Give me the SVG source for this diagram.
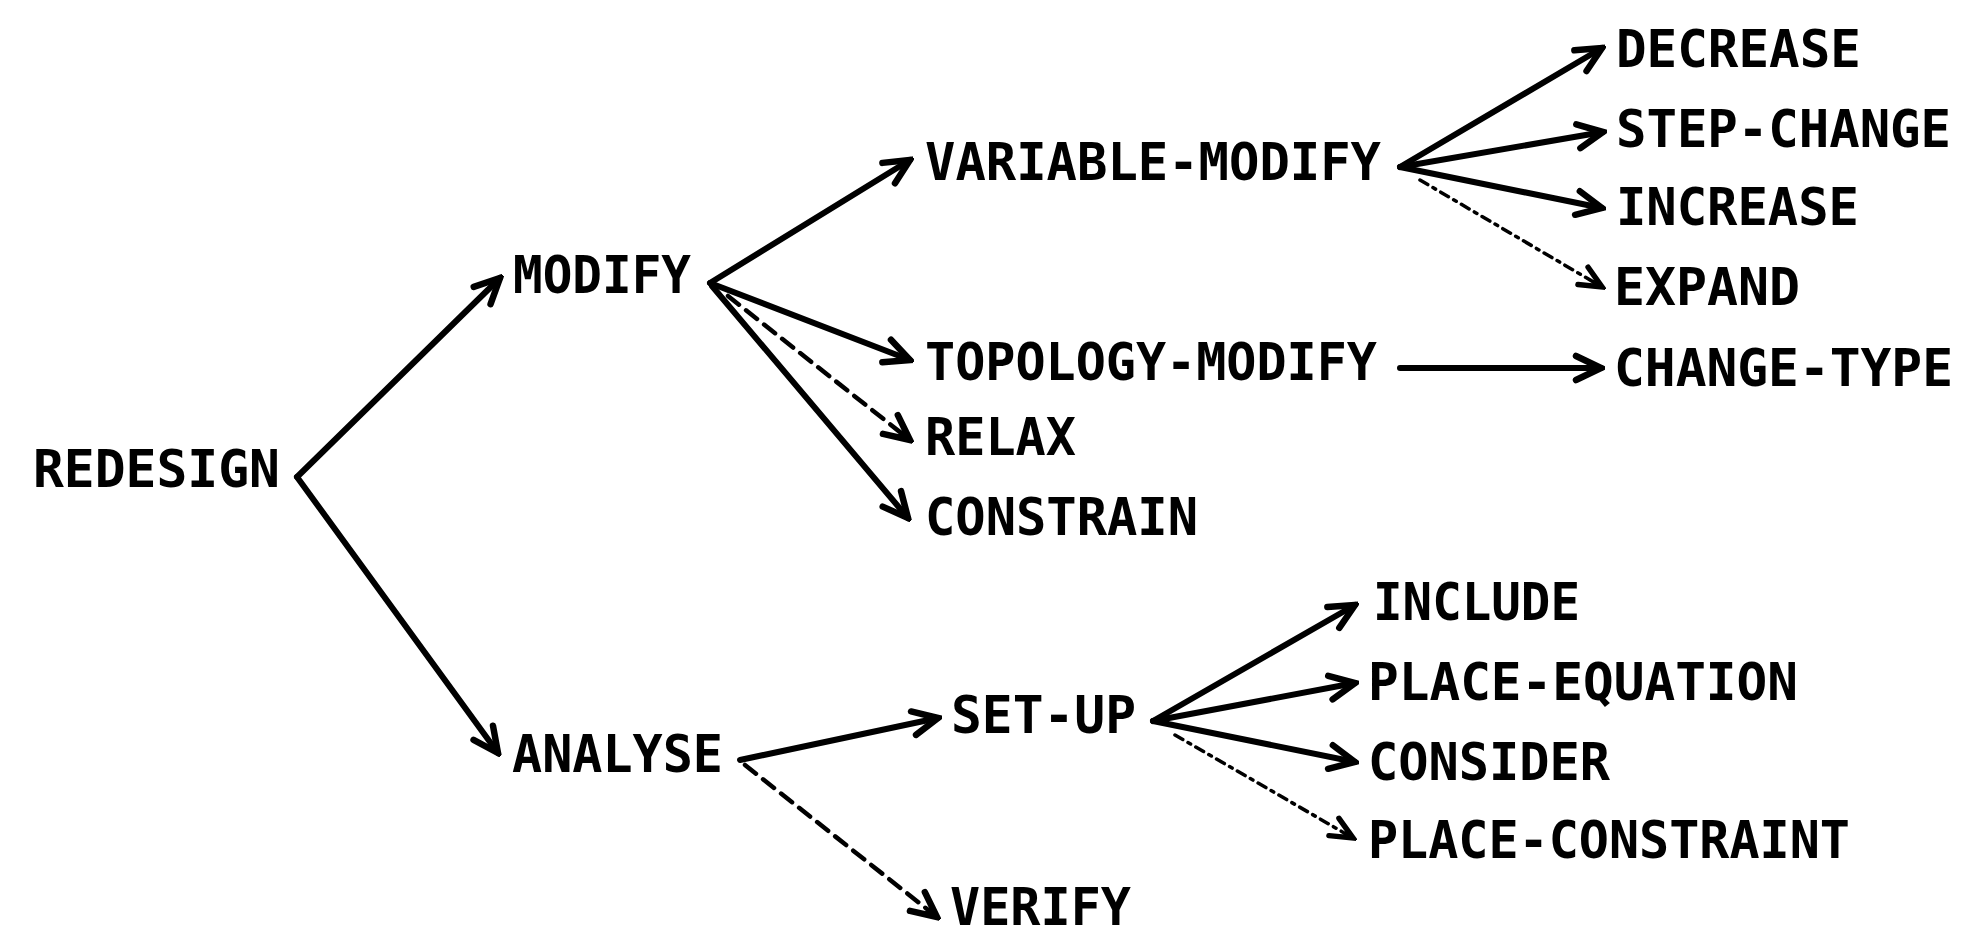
<svg xmlns="http://www.w3.org/2000/svg" width="1987" height="935" viewBox="0 0 1987 935">
<style>
  text { font-family: "DejaVu Sans Mono", "Liberation Mono", monospace; font-weight: bold; font-size: 51px; fill: #000; }
  .c { fill: none; stroke: #000; stroke-linecap: round; }
  .solid { stroke-width: 6; marker-end: url(#ah); }
  .dash { stroke-width: 4.5; stroke-dasharray: 14 9; marker-end: url(#ah); }
  .dot { stroke-width: 3.5; stroke-dasharray: 9 6 3 6; marker-end: url(#ahs); }
</style>
<defs>
  <marker id="ah" viewBox="-32 -16 36 32" refX="0" refY="0" markerUnits="userSpaceOnUse" markerWidth="36" markerHeight="32" orient="auto">
    <path d="M-25,-12 L0,0 L-25,12" fill="none" stroke="#000" stroke-width="6.5" stroke-linejoin="miter" stroke-linecap="round"/>
    <path d="M1,0 L-16,-9 L-11,0 L-16,9 Z" fill="#000"/>
  </marker>
  <marker id="ahs" viewBox="-32 -16 36 32" refX="0" refY="0" markerUnits="userSpaceOnUse" markerWidth="36" markerHeight="32" orient="auto">
    <path d="M-22,-10 L0,0 L-22,10" fill="none" stroke="#000" stroke-width="5.5" stroke-linejoin="miter" stroke-linecap="round"/>
    <path d="M1,0 L-14,-8 L-9,0 L-14,8 Z" fill="#000"/>
  </marker>
</defs>

<g id="connectors">
  <line class="c solid" x1="297" y1="477" x2="500" y2="278"/>
  <line class="c solid" x1="297" y1="477" x2="498" y2="753"/>

  <line class="c solid" x1="710" y1="283" x2="910" y2="160"/>
  <line class="c solid" x1="710" y1="283" x2="910" y2="360"/>
  <line class="c dash" x1="728" y1="296" x2="910" y2="440"/>
  <line class="c solid" x1="712" y1="286" x2="908" y2="518"/>

  <line class="c solid" x1="1400" y1="167" x2="1602" y2="48"/>
  <line class="c solid" x1="1400" y1="167" x2="1603" y2="132"/>
  <line class="c solid" x1="1400" y1="167" x2="1602" y2="208"/>
  <line class="c dot" x1="1420" y1="180" x2="1602" y2="287"/>

  <line class="c solid" x1="1400" y1="368" x2="1601" y2="368"/>

  <line class="c solid" x1="740" y1="760" x2="938" y2="718"/>
  <line class="c dash" x1="745" y1="765" x2="937" y2="917"/>

  <line class="c solid" x1="1153" y1="721" x2="1355" y2="605"/>
  <line class="c solid" x1="1153" y1="721" x2="1355" y2="683"/>
  <line class="c solid" x1="1153" y1="721" x2="1355" y2="762"/>
  <line class="c dot" x1="1175" y1="735" x2="1353" y2="838"/>
</g>

<g id="node-redesign"><text x="33" y="487" textLength="247" lengthAdjust="spacingAndGlyphs">REDESIGN</text></g>
<g id="node-modify"><text x="513" y="293" textLength="178" lengthAdjust="spacingAndGlyphs">MODIFY</text></g>
<g id="node-analyse"><text x="512" y="772" textLength="211" lengthAdjust="spacingAndGlyphs">ANALYSE</text></g>
<g id="node-variable-modify"><text x="925" y="180" textLength="456" lengthAdjust="spacingAndGlyphs">VARIABLE-MODIFY</text></g>
<g id="node-topology-modify"><text x="925" y="380" textLength="452" lengthAdjust="spacingAndGlyphs">TOPOLOGY-MODIFY</text></g>
<g id="node-relax"><text x="925" y="455" textLength="151" lengthAdjust="spacingAndGlyphs">RELAX</text></g>
<g id="node-constrain"><text x="925" y="535" textLength="273" lengthAdjust="spacingAndGlyphs">CONSTRAIN</text></g>
<g id="node-decrease"><text x="1616" y="67" textLength="245" lengthAdjust="spacingAndGlyphs">DECREASE</text></g>
<g id="node-step-change"><text x="1616" y="147" textLength="335" lengthAdjust="spacingAndGlyphs">STEP-CHANGE</text></g>
<g id="node-increase"><text x="1616" y="225" textLength="243" lengthAdjust="spacingAndGlyphs">INCREASE</text></g>
<g id="node-expand"><text x="1614" y="305" textLength="186" lengthAdjust="spacingAndGlyphs">EXPAND</text></g>
<g id="node-change-type"><text x="1614" y="386" textLength="339" lengthAdjust="spacingAndGlyphs">CHANGE-TYPE</text></g>
<g id="node-set-up"><text x="951" y="733" textLength="185" lengthAdjust="spacingAndGlyphs">SET-UP</text></g>
<g id="node-verify"><text x="950" y="925" textLength="181" lengthAdjust="spacingAndGlyphs">VERIFY</text></g>
<g id="node-include"><text x="1373" y="620" textLength="207" lengthAdjust="spacingAndGlyphs">INCLUDE</text></g>
<g id="node-place-equation"><text x="1368" y="700" textLength="430" lengthAdjust="spacingAndGlyphs">PLACE-EQUATION</text></g>
<g id="node-consider"><text x="1368" y="780" textLength="242" lengthAdjust="spacingAndGlyphs">CONSIDER</text></g>
<g id="node-place-constraint"><text x="1368" y="858" textLength="482" lengthAdjust="spacingAndGlyphs">PLACE-CONSTRAINT</text></g>
</svg>
